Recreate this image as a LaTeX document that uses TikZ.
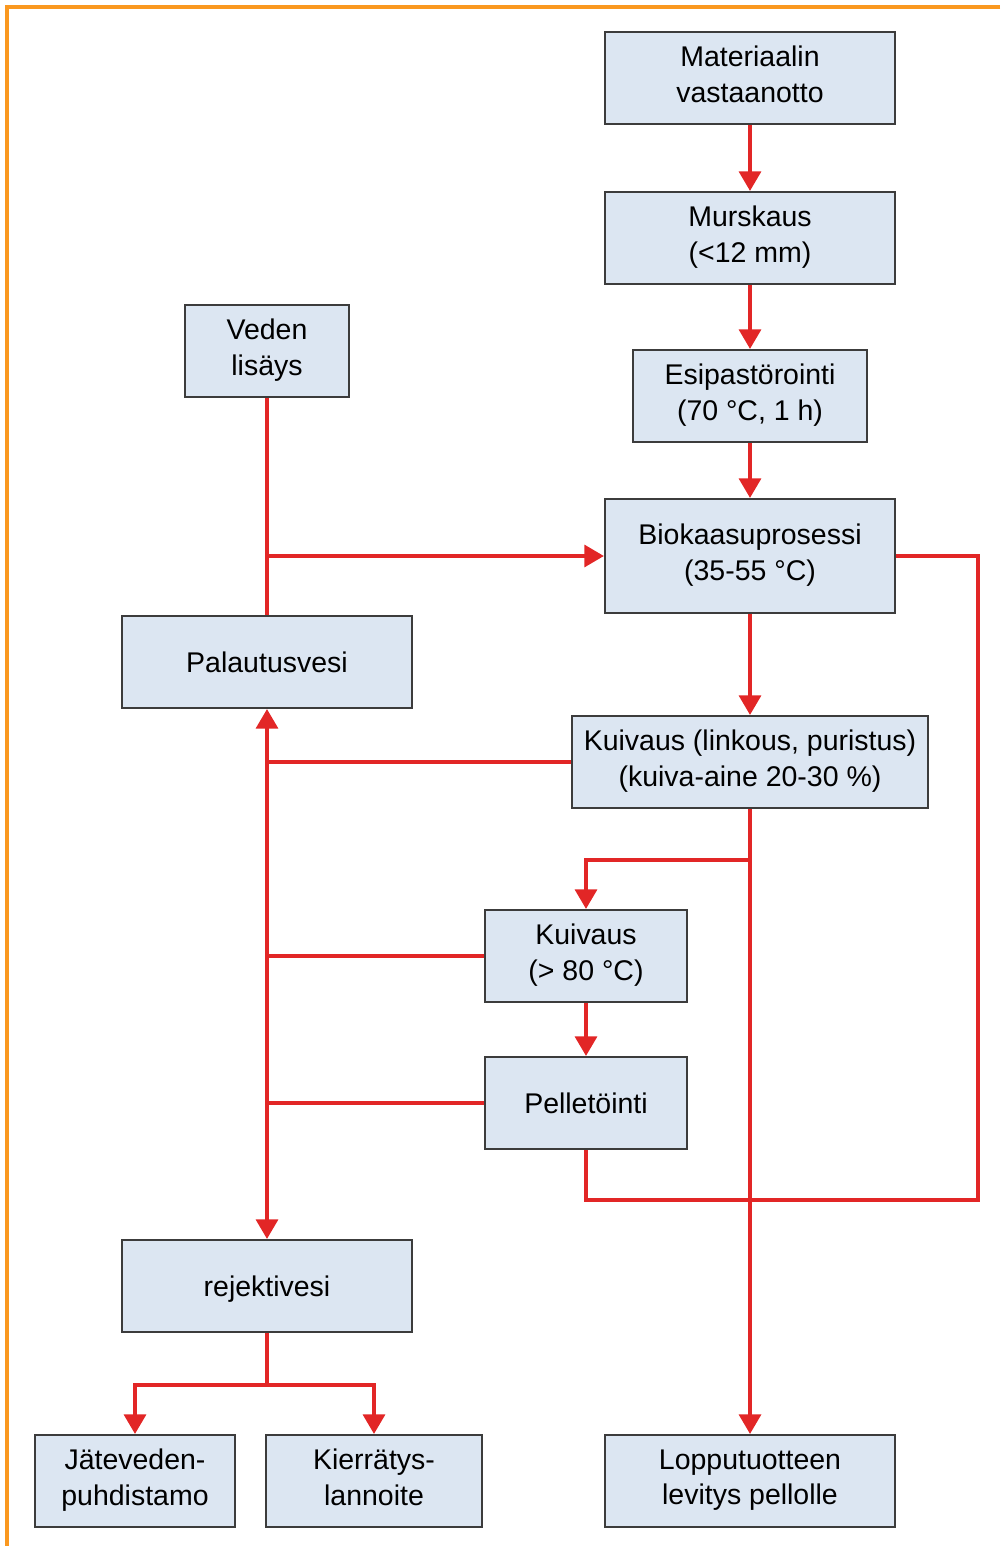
\documentclass[tikz,border=0pt]{standalone}
\usepackage{fontspec}
\setmainfont{Liberation Sans}
\usetikzlibrary{arrows.meta}
\definecolor{flowred}{RGB}{226,38,38}
\definecolor{boxfill}{RGB}{220,230,242}
\definecolor{boxline}{RGB}{60,60,60}
\definecolor{frameorange}{RGB}{250,152,32}
\newcommand\boxstrut{\rule[-2.2pt]{0pt}{10.2pt}}

\begin{document}
\begin{tikzpicture}[x=0.01cm,y=-0.01cm,
  stage/.style={draw=boxline,line width=0.55pt,fill=boxfill,align=center,
    inner sep=0pt,minimum height=0.92cm,font=\fontsize{8.1}{10}\selectfont,
    execute at begin node=\boxstrut,execute at end node=\boxstrut},
  flow/.style={draw=flowred,line width=1.15pt},
  >={Triangle[width=6.2pt,length=5.6pt]}]
    \useasboundingbox (0,0) rectangle (1000,1546);
    \draw[frameorange,line width=1.1pt] (1000,7) -- (7,7) -- (7,1546);

    % main line
    \node[stage,minimum width=2.9cm] (vastaanotto) at (750,78) {Materiaalin\\vastaanotto};
    \node[stage,minimum width=2.9cm] (murskaus) at (750,238) {Murskaus\\(<12 mm)};
    \node[stage,minimum width=2.33cm] (esipast) at (750,396) {Esipastörointi\\(70 °C, 1 h)};
    \node[stage,minimum width=2.9cm,minimum height=1.14cm] (biokaasu) at (750,556) {Biokaasuprosessi\\(35-55 °C)};
    \node[stage,minimum width=3.56cm] (linkous) at (750,762) {Kuivaus (linkous, puristus)\\(kuiva-aine 20-30 \%)};
    \node[stage,minimum width=2.01cm] (kuivaus) at (586,956) {Kuivaus\\(> 80 °C)};
    \node[stage,minimum width=2.01cm] (pelletointi) at (586,1103) {Pelletöinti};
    \node[stage,minimum width=2.9cm] (levitys) at (750,1481) {Lopputuotteen\\levitys pellolle};

    % water side
    \node[stage,minimum width=1.63cm] (veden) at (267,351) {Veden\\lisäys};
    \node[stage,minimum width=2.9cm] (palautus) at (267,662) {Palautusvesi};
    \node[stage,minimum width=2.9cm] (rejekti) at (267,1286) {rejektivesi};
    \node[stage,minimum width=2cm] (jatevesi) at (135,1481) {Jäteveden-\\puhdistamo};
    \node[stage,minimum width=2.15cm] (lannoite) at (374,1481) {Kierrätys-\\lannoite};

    \coordinate (vesihaara) at (267,556);
    \coordinate (ohitus) at (978,556);
    \coordinate (kokooja) at (750,1200);
    \coordinate (kuivaushaara) at (750,860);
    \coordinate (rejektihaara) at (267,1385);

    \draw[flow,->] (vastaanotto) -- (murskaus);
    \draw[flow,->] (murskaus) -- (esipast);
    \draw[flow,->] (esipast) -- (biokaasu);
    \draw[flow,->] (biokaasu) -- (linkous);
    \draw[flow,->] (linkous) -- (levitys);
    \draw[flow,->] (kuivaushaara) -| (kuivaus);
    \draw[flow,->] (kuivaus) -- (pelletointi);
    \draw[flow] (pelletointi) |- (kokooja);
    \draw[flow] (biokaasu.east) -- (ohitus) |- (kokooja);

    \draw[flow] (veden) -- (palautus);
    \draw[flow,->] (vesihaara) -- (biokaasu.west);
    \draw[flow,<->] (palautus) -- (rejekti);
    \draw[flow] (linkous.west) -- (linkous.west -| palautus.south);
    \draw[flow] (kuivaus.west) -- (kuivaus.west -| palautus.south);
    \draw[flow] (pelletointi.west) -- (pelletointi.west -| palautus.south);

    \draw[flow] (rejekti) -- (rejektihaara);
    \draw[flow,->] (rejektihaara) -| (jatevesi);
    \draw[flow,->] (rejektihaara) -| (lannoite);
\end{tikzpicture}
\end{document}
